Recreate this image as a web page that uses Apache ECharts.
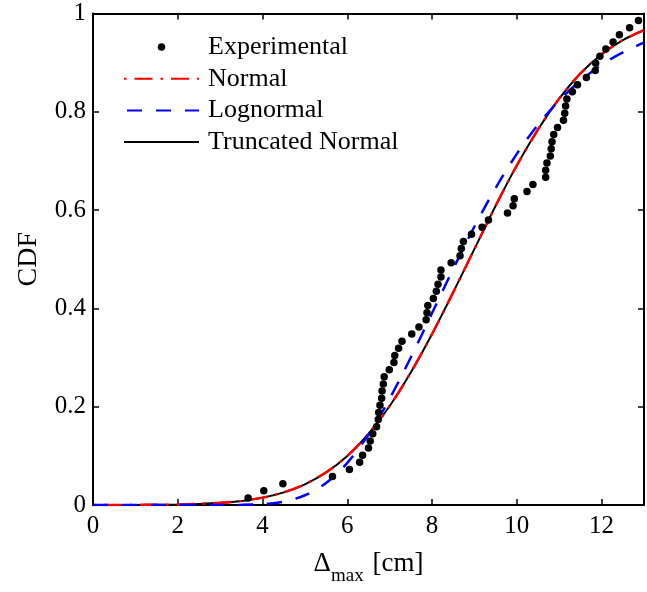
<!DOCTYPE html>
<html>
<head>
<meta charset="utf-8">
<script src="https://cdn.jsdelivr.net/npm/echarts@6/dist/echarts.min.js"></script>
<style>html,body{margin:0;padding:0;background:#fff;}#c{width:647px;height:592px;}</style>
</head>
<body>
<div id="c"></div>
<script>
const xExp = [3.66,4.03,4.48,5.65,6.05,6.29,6.36,6.50,6.54,6.60,6.69,6.73,6.74,6.77,6.81,6.82,6.85,6.87,6.99,7.10,7.12,7.21,7.29,7.52,7.69,7.86,7.88,7.90,8.03,8.10,8.14,8.21,8.21,8.45,8.66,8.69,8.74,8.93,9.18,9.33,9.78,9.91,9.94,10.24,10.38,10.68,10.68,10.71,10.79,10.81,10.83,10.87,10.96,11.10,11.13,11.15,11.18,11.31,11.43,11.64,11.85,11.86,11.96,12.10,12.27,12.42,12.66,12.87];
const yExp = [0.014,0.029,0.043,0.058,0.072,0.087,0.101,0.116,0.130,0.145,0.159,0.174,0.188,0.203,0.217,0.232,0.246,0.261,0.275,0.290,0.304,0.319,0.333,0.348,0.362,0.377,0.391,0.406,0.420,0.435,0.449,0.464,0.478,0.493,0.507,0.522,0.536,0.551,0.565,0.580,0.594,0.609,0.623,0.638,0.652,0.667,0.681,0.696,0.710,0.725,0.739,0.754,0.768,0.783,0.797,0.812,0.826,0.841,0.855,0.870,0.884,0.899,0.913,0.928,0.942,0.957,0.971,0.986];
const xCurve = [0,0.5,1,1.5,2,2.5,3,3.5,4,4.5,5,5.5,6,6.5,7,7.5,8,8.5,9,9.5,10,10.5,11,11.5,12,12.5,13];
const yNormal = [0.00004,0.0001,0.0002,0.0005,0.0011,0.0023,0.0045,0.0084,0.0150,0.0258,0.0423,0.0665,0.100,0.145,0.2016,0.270,0.348,0.433,0.521,0.609,0.691,0.764,0.827,0.878,0.917,0.946,0.966];
const yLognormal = [0,0,0,0,0,0,0.00003,0.0003,0.0018,0.0070,0.0198,0.0448,0.0857,0.1435,0.2165,0.3005,0.3905,0.4807,0.5667,0.645,0.7145,0.7738,0.8232,0.8634,0.8957,0.921,0.9406];
const yTruncated = [0.00003,0.0001,0.0002,0.0005,0.0010,0.0022,0.0044,0.0083,0.0148,0.0256,0.0421,0.0663,0.0998,0.1448,0.2015,0.270,0.348,0.433,0.521,0.609,0.691,0.764,0.827,0.878,0.917,0.946,0.966];
const xTicks = [0,2,4,6,8,10,12];
const yTicks = [0,0.2,0.4,0.6,0.8,1];
const legendNames = ['Experimental','Normal','Lognormal','Truncated Normal'];

const zip = (xs, ys) => xs.map((x, i) => [x, ys[i]]);
const FONT = '"Liberation Serif","DejaVu Serif",serif';

const chart = echarts.init(document.getElementById('c'), null, {renderer: 'canvas'});
const axisCommon = {
  type: 'value',
  axisLine: {show: true, onZero: false, lineStyle: {color: '#000', width: 2}},
  axisTick: {show: true, inside: true, length: 6, lineStyle: {color: '#000', width: 1.5}},
  splitLine: {show: false}
};
chart.setOption({
  animation: false,
  backgroundColor: '#fff',
  grid: {left: 93, top: 13.5, width: 558, height: 491.5, containLabel: false},
  legend: {
    orient: 'vertical',
    left: 118, top: 29,
    itemWidth: 75, itemHeight: 7.5, itemGap: 5.7,
    data: legendNames.map((n, i) => i === 0 ? {name: n} : {name: n, itemStyle: {opacity: 0}}),
    textStyle: {fontFamily: FONT, fontSize: 26, color: '#000', lineHeight: 26, padding: [0, 0, 0, 4]},
    selectedMode: false
  },
  xAxis: [
    Object.assign({}, axisCommon, {
      min: 0, max: 13, interval: 2, position: 'bottom',
      axisLabel: {fontFamily: FONT, fontSize: 25, color: '#000', margin: 9,
        formatter: v => xTicks.indexOf(v) >= 0 ? String(v) : ''},
      name: '{a|Δ}{s|max}{a| [cm]}',
      nameLocation: 'middle', nameGap: 45,
      nameTextStyle: {fontFamily: FONT, color: '#000',
        rich: {
          a: {fontFamily: FONT, fontSize: 27, color: '#000', lineHeight: 36, verticalAlign: 'top'},
          s: {fontFamily: FONT, fontSize: 19, color: '#000', lineHeight: 36, verticalAlign: 'bottom', padding: [0, 2, 0, 0]}
        }}
    }),
    Object.assign({}, axisCommon, {
      min: 0, max: 13, interval: 2, position: 'top',
      axisLabel: {show: false}
    })
  ],
  yAxis: [
    Object.assign({}, axisCommon, {
      min: 0, max: 1, interval: 0.2, position: 'left',
      axisLabel: {fontFamily: FONT, fontSize: 25, color: '#000', margin: 7,
        formatter: v => {
          const t = yTicks.find(k => Math.abs(k - v) < 1e-9);
          return t === undefined ? '' : String(+t.toFixed(1));
        }},
      name: 'CDF', nameLocation: 'middle', nameGap: 50, nameRotate: 90,
      nameTextStyle: {fontFamily: FONT, fontSize: 28, color: '#000'}
    }),
    Object.assign({}, axisCommon, {
      min: 0, max: 1, interval: 0.2, position: 'right',
      axisLabel: {show: false}
    })
  ],
  series: [
    {
      name: 'Experimental', type: 'scatter',
      data: zip(xExp, yExp),
      symbol: 'circle', symbolSize: 7.5,
      itemStyle: {color: '#000', opacity: 1}, z: 5
    },
    {
      name: 'Truncated Normal', type: 'line',
      data: zip(xCurve, yTruncated), smooth: 0.3, showSymbol: false, symbol: 'none',
      lineStyle: {color: '#000', width: 2}, itemStyle: {color: '#000'}, z: 2
    },
    {
      name: 'Normal', type: 'line',
      data: zip(xCurve, yNormal), smooth: 0.3, showSymbol: false, symbol: 'none',
      lineStyle: {color: '#ff0000', width: 2.5, type: [18, 8, 2.5, 8], dashOffset: 26}, itemStyle: {color: '#ff0000'}, z: 3
    },
    {
      name: 'Lognormal', type: 'line',
      data: zip(xCurve, yLognormal), smooth: 0.3, showSymbol: false, symbol: 'none',
      lineStyle: {color: '#0000ff', width: 2.5, type: [15, 14]}, itemStyle: {color: '#0000ff'}, z: 4
    }
  ]
});
</script>
</body>
</html>
